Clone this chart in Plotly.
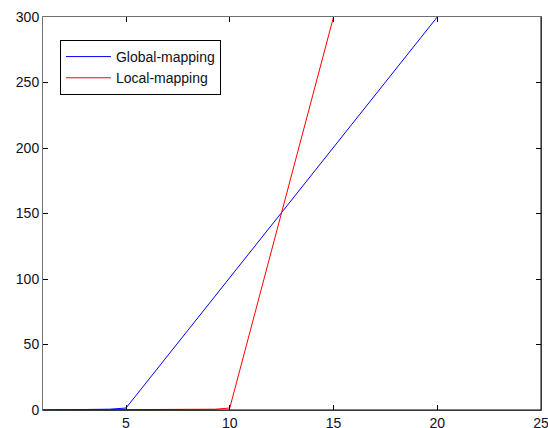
import plotly.graph_objects as go

global_x = [1, 4.2, 5, 20]
global_y = [0, 0.6, 1.5, 300]
local_x = [1, 9.3, 10, 15]
local_y = [0, 0.6, 1.5, 300]
x_ticks = [5, 10, 15, 20, 25]
y_ticks = [0, 50, 100, 150, 200, 250, 300]

fig = go.Figure()
fig.add_trace(go.Scatter(x=global_x, y=global_y, mode="lines", name="Global-mapping",
                         line=dict(color="#0000ff", width=1)))
fig.add_trace(go.Scatter(x=local_x, y=local_y, mode="lines", name="Local-mapping",
                         line=dict(color="#ff0000", width=1)))

axis_common = dict(showgrid=False, zeroline=False, showline=True, linecolor="#707070",
                   linewidth=1, mirror="ticks", ticks="inside", ticklen=5,
                   tickcolor="black", tickfont=dict(family="Arial", size=14, color="#101020"),
                   automargin=False, ticklabeloverflow="allow")
fig.update_xaxes(range=[1, 25], tickvals=x_ticks, **axis_common)
fig.update_yaxes(range=[0, 300], tickvals=y_ticks, **axis_common)

# darker bottom and right edges, as in the reference
fig.add_shape(type="line", xref="paper", yref="paper", x0=0, x1=1, y0=0, y1=0,
              line=dict(color="black", width=1), layer="above")
fig.add_shape(type="line", xref="paper", yref="paper", x0=1, x1=1, y0=0, y1=1,
              line=dict(color="black", width=1), layer="above")

fig.update_layout(
    width=548, height=428,
    margin=dict(l=43, r=7, t=17, b=18),
    paper_bgcolor="white", plot_bgcolor="white",
    showlegend=True,
    legend=dict(x=0.034, y=0.9415, xanchor="left", yanchor="top",
                bordercolor="black", borderwidth=1, bgcolor="white",
                font=dict(family="Arial", size=14, color="#101020"),
                tracegroupgap=0, itemwidth=45),
)
fig.write_html("out.html", config={"displayModeBar": False},
               post_script="document.documentElement.style.overflow='hidden';"
               "document.body.style.margin='0';document.body.style.overflow='hidden';")
